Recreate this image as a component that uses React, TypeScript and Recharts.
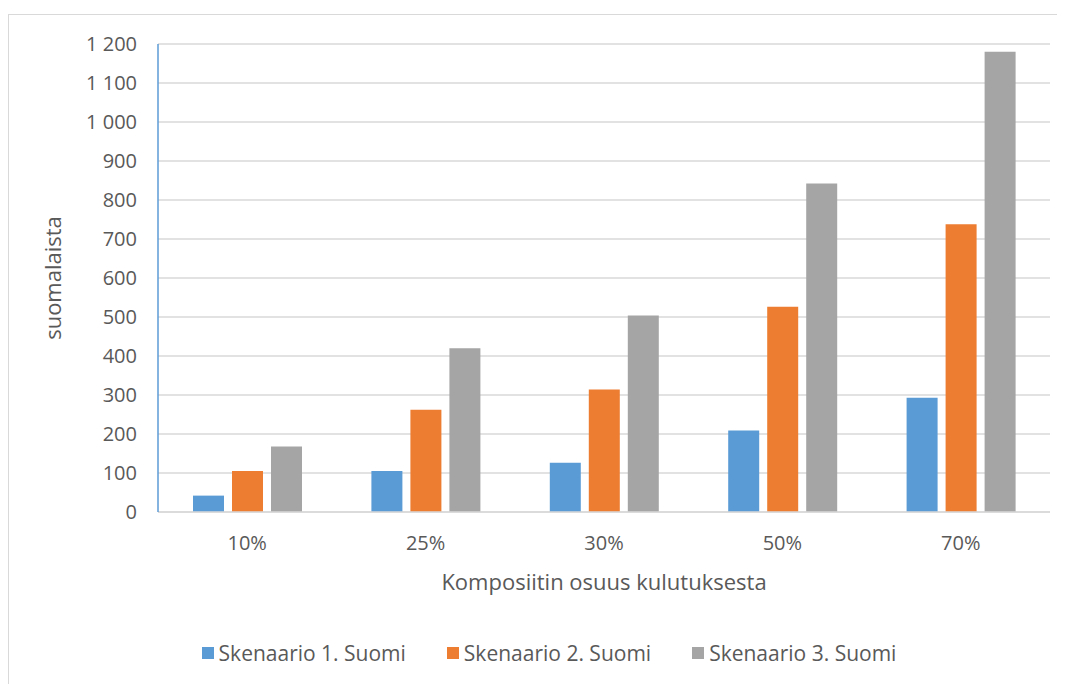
import { BarChart, Bar, XAxis, YAxis, CartesianGrid, Legend } from 'recharts';

const shares = ['10%', '25%', '30%', '50%', '70%'];
const scenario1 = [42, 105, 126, 209, 293];
const scenario2 = [105, 262, 314, 526, 738];
const scenario3 = [168, 420, 504, 842, 1180];
const yTicks = [0, 100, 200, 300, 400, 500, 600, 700, 800, 900, 1000, 1100, 1200];

const seriesNames = ['Skenaario 1. Suomi', 'Skenaario 2. Suomi', 'Skenaario 3. Suomi'];
const seriesColors = ['#5b9bd5', '#ed7d31', '#a5a5a5'];

const data = shares.map((share, i) => ({
  share,
  s1: scenario1[i],
  s2: scenario2[i],
  s3: scenario3[i],
}));

const FONT = '"Open Sans", sans-serif';
const TEXT = '#595959';

// thousands separated by a space, e.g. "1 200"
const formatNumber = (v: number) => String(v).replace(/\B(?=(\d{3})+(?!\d))/g, ' ');

function LegendRow() {
  return (
    <div
      style={{
        display: 'flex',
        justifyContent: 'center',
        gap: 41,
        paddingLeft: 40,
        fontFamily: FONT,
        fontSize: 21,
        color: TEXT,
      }}
    >
      {seriesNames.map((name, i) => (
        <div key={name} style={{ display: 'flex', alignItems: 'center', gap: 5 }}>
          <span style={{ width: 12, height: 12, background: seriesColors[i], display: 'inline-block' }} />
          <span>{name}</span>
        </div>
      ))}
    </div>
  );
}

export default function App() {
  return (
    <div style={{ position: 'relative', width: 1057, height: 676 }}>
      <div
        style={{
          position: 'absolute',
          left: 0,
          top: 6,
          width: 1070,
          height: 680,
          borderTop: '1px solid #d9d9d9',
          borderLeft: '1px solid #d9d9d9',
        }}
      />
      <BarChart
        width={1057}
        height={676}
        data={data}
        margin={{ top: 36, right: 15, left: 0, bottom: 15 }}
        barGap={8}
        barSize={31}
        style={{ position: 'absolute', left: 0, top: 0 }}
      >
        <CartesianGrid vertical={false} stroke="#d9d9d9" strokeWidth={1.3} />
        <XAxis
          dataKey="share"
          height={127}
          axisLine={{ stroke: '#d9d9d9', strokeWidth: 1.3 }}
          tickLine={false}
          tickMargin={18}
          tick={{ fontFamily: FONT, fontSize: 20, fill: TEXT }}
          label={{
            value: 'Komposiitin osuus kulutuksesta',
            position: 'insideBottom',
            offset: 49,
            fill: TEXT,
            fontFamily: FONT,
            fontSize: 22,
          }}
        />
        <YAxis
          width={150}
          domain={[0, 1200]}
          ticks={yTicks}
          interval={0}
          tickFormatter={formatNumber}
          axisLine={{ stroke: '#5b9bd5', strokeWidth: 1.5 }}
          tickLine={false}
          tickMargin={15}
          tick={{ fontFamily: FONT, fontSize: 20, fill: TEXT }}
          label={{
            value: 'suomalaista',
            angle: -90,
            position: 'insideLeft',
            offset: 45,
            fill: TEXT,
            fontFamily: FONT,
            fontSize: 22,
            style: { textAnchor: 'middle' },
          }}
        />
        <Legend verticalAlign="bottom" wrapperStyle={{ height: 30 }} content={() => <LegendRow />} />
        <Bar dataKey="s1" name={seriesNames[0]} fill={seriesColors[0]} isAnimationActive={false} />
        <Bar dataKey="s2" name={seriesNames[1]} fill={seriesColors[1]} isAnimationActive={false} />
        <Bar dataKey="s3" name={seriesNames[2]} fill={seriesColors[2]} isAnimationActive={false} />
      </BarChart>
    </div>
  );
}
